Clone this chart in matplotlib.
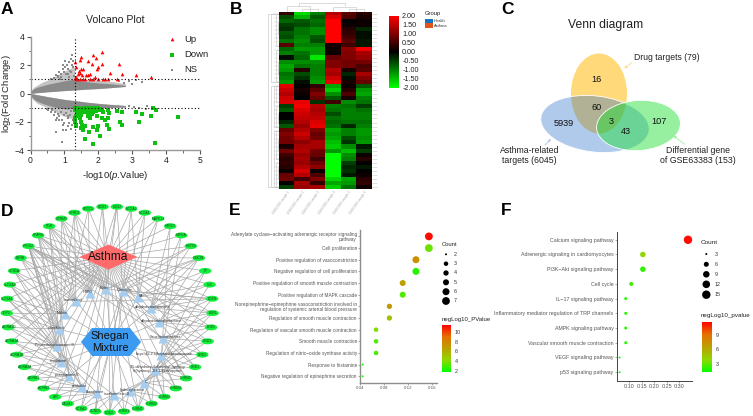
import numpy as np
import matplotlib
matplotlib.use('Agg')
import matplotlib.pyplot as plt
from matplotlib.patches import Ellipse, Polygon, Rectangle
from matplotlib.colors import LinearSegmentedColormap, Normalize
from matplotlib.cm import ScalarMappable

plt.rcParams['font.family'] = ['Liberation Sans', 'DejaVu Sans']
plt.rcParams['mathtext.fontset'] = 'custom'
plt.rcParams['mathtext.rm'] = 'Liberation Sans'
plt.rcParams['mathtext.it'] = 'Liberation Sans:italic'
plt.rcParams['mathtext.default'] = 'regular'

W, H = 753, 416

# Panel A: volcano plot
up_x = [1.3, 1.35, 1.42, 1.45, 1.5, 1.5, 1.55, 1.4, 1.45, 1.52, 1.35, 1.3, 1.38, 1.45, 1.55, 1.6, 1.65,
        1.7, 1.75, 1.7, 1.8, 1.85, 1.92, 2.1, 2.0, 2.1, 1.95, 1.9, 1.75, 1.85, 2.0, 2.15, 2.2, 2.3,
        2.35, 2.55, 2.6, 2.7, 3.1, 3.55]
up_y = [2.2, 1.9, 1.6, 2.4, 2.6, 1.75, 1.7, 1.4, 1.45, 1.3, 1.2, 1.1, 1.05, 1.0, 1.05, 1.0, 1.3,
        1.3, 1.4, 2.3, 2.1, 2.75, 2.5, 2.95, 1.9, 2.1, 1.7, 1.15, 1.0, 1.0, 1.05, 1.0, 1.0, 1.05,
        1.45, 1.05, 2.1, 1.4, 1.3, 1.2]
down_x = [1.3, 1.32, 1.35, 1.38, 1.4, 1.42, 1.45, 1.48, 1.5, 1.52, 1.55, 1.58, 1.6, 1.63, 1.66, 1.7,
          1.72, 1.75, 1.78, 1.8, 1.83, 1.86, 1.9, 1.93, 1.97, 2.0, 2.05, 2.1, 2.15, 2.3, 2.32, 2.55, 2.7,
          1.32, 1.35, 1.4, 1.45, 1.5, 1.3, 1.35, 1.48, 1.52, 1.7, 1.75, 1.8, 1.95, 2.1, 2.2, 2.3,
          1.33, 1.5, 1.55, 1.62, 1.72, 1.85, 1.95, 2.0, 2.25, 2.32, 2.65, 2.7, 3.1, 3.2, 3.3, 3.55, 3.6,
          3.7, 4.35, 1.62, 2.05, 1.83, 3.67]
down_y = [-1.05, -1.2, -1.1, -1.3, -1.05, -1.25, -1.15, -1.3, -1.1, -1.25, -1.05, -1.3, -1.15, -1.3, -1.05,
          -1.25, -1.1, -1.35, -1.05, -1.2, -1.3, -1.1, -1.05, -1.25, -1.05, -1.15, -1.1, -1.2, -1.3, -1.15,
          -1.4, -1.25, -1.3, -1.7, -1.6, -1.45, -1.75, -1.55, -2.05, -2.2, -2.05, -2.2, -1.6, -1.75, -1.45,
          -1.6, -1.7, -1.85, -1.75, -2.3, -2.45, -2.55, -2.3, -2.7, -2.4, -2.6, -2.3, -2.2, -2.5, -2.0, -2.25,
          -1.3, -2.05, -1.45, -1.6, -1.05, -1.15, -1.65, -3.2, -3.0, -3.6, -3.5]
ns_band_x = [0, .05, .1, .2, .35, .5, .7, .9, 1.1, 1.29, 1.31, 1.6, 2, 2.4, 2.8]
ns_up_inner = [0, .02, .03, .06, .09, .12, .15, .19, .22, .25, .25, .3, .35, .42, .5]
ns_up_dense = [.12, .25, .35, .45, .55, .65, .75, .85, .95, 1.0, .95, .85, .75, .68, .58]
ns_up_sparse = [.15, .3, .45, .6, .8, .95, 1.2, 1.45, 1.7, 1.9, 1.0, 1.0, .95, .85, .7]
ns_low_inner = [0, -.02, -.04, -.09, -.15, -.22, -.3, -.38, -.45, -.5, -.5, -.6, -.7, -.78, -.85]
ns_low_dense = [-.12, -.28, -.4, -.55, -.7, -.82, -.95, -1.05, -1.1, -1.0, -1.0, -1.0, -1.0, -.98, -.95]
ns_low_sparse = [-.15, -.35, -.5, -.7, -.85, -1.0, -1.25, -1.5, -1.7, -1.8, -1.0, -1.0, -1.0, -1.0, -1.0]
ns_x = [.6, .7, .75, .8, .85, .9, .95, 1.0, 1.02, 1.05, 1.08, 1.12, 1.15, 1.18, 1.2, 1.22, 1.25, 1.28,
        .9, .97, 1.03, 1.1, 1.17, 1.23, .82, .88, 1.14, 1.26, 2.9, 3.0, 3.1, 3.3, 2.6, 2.75,
        .5, .52, .6, .62, .7, .72, .78, .8, .85, .9, .92, .98, 1.0, 1.05, 1.1, 1.12, 1.16, 1.2, 1.25,
        .75, .85, .95, 1.05, 1.15, 1.22, .75, .95, .92, 1.1, 1.2, 3.05, 3.45, 2.9, 3.2, 3.4]
ns_y = [1.0, 1.1, 1.3, 1.2, 1.5, 1.35, 1.7, 1.55, 1.85, 1.4, 2.05, 1.75, 2.2, 2.45, 1.5, 2.7, 1.9, 1.25,
        1.15, 2.0, 2.3, 1.35, 1.6, 2.0, 1.25, 1.05, 1.15, 2.3, .85, .7, .95, .8, .85, .75,
        -1.1, -1.2, -1.3, -1.15, -1.5, -1.3, -1.75, -1.45, -1.6, -1.3, -1.9, -1.55, -2.1, -1.4, -1.7, -2.3,
        -1.5, -2.5, -1.9, -1.9, -1.85, -2.2, -2.6, -2.1, -2.2, -2.75, -2.6, -3.4, -1.6, -1.25, -.95, -.85, -.9, -1.0, -1.1]

# Panel B: heatmap, rows top to bottom, six samples
heat = np.array([
    [.4, -1.7, -1.0, 1.4, .7, .3], [-.6, -1.4, -.7, 1.7, .6, .2], [-.8, -.7, -.9, 2, .0, .1],
    [-.5, -.6, -.8, 2, .1, .1], [-.4, -.9, -1.1, 2, .3, -.3], [-.7, -.9, -1.1, 2, .4, -.1],
    [-.6, -1.0, -.7, 2, .5, -.1], [-.9, -1.1, -.6, 2, .7, -.2], [.7, -1.0, -1.0, .2, .5, -.2],
    [-.8, -1.2, -1.2, .1, 1.1, 1.9], [-1.0, -.9, -1.2, .1, 1.0, 1.3], [-.1, -.8, -1.8, .8, 1.0, 1.2],
    [-1.1, -1.1, -1.1, 1.0, .9, .9], [-1.3, -.9, -1.0, 1.0, .9, .6], [-1.2, .3, -1.0, 1.4, .2, .7],
    [-.9, -.6, -1.0, 1.3, -.3, 1.3], [-1.0, -.4, -1.1, 1.6, -.1, 1.0], [-1.2, -.1, -1.2, 1.8, .2, .8],
    [1.8, .0, .4, -1.3, .1, -.7], [1.6, .2, .7, -1.6, .3, -1.2], [1.4, .1, 1.0, -1.1, .6, -1.3],
    [1.6, .0, .8, -.7, .2, -1.0], [1.7, 1.8, -.4, .5, -1.1, -.9], [-.5, 1.9, 1.4, -1, -.9, -.5],
    [-.7, 1.7, 1.3, -.9, -1, -.9], [.0, 1.6, 1.4, -.6, -1, -1], [.0, 1.5, 1.5, -.9, -1, -1],
    [-.3, 1.4, 1.7, -.8, -.9, -.9], [-.7, 1.2, 1.8, -.9, -.3, -1], [.8, 1.4, 1.0, -1.3, -1, -1.2],
    [1.0, 1.6, .8, -1.2, -1, -1.2], [.9, 1.4, .9, -1.3, -.6, -1.1], [.9, 1.1, 1.3, -1.5, -.4, -1.2],
    [.2, 1.3, 1.3, -1.6, -1.1, -.2], [.9, 1.4, .9, -1.2, -1.5, -.5], [.5, 1.2, .8, -2, -1.1, .1],
    [.3, 1.3, .5, -2, -1, .3], [.4, 1.2, .9, -2, -.5, .0], [.3, 1.4, 1.1, -2, -.3, -.2],
    [.1, 1.7, .1, -2, -.4, .0], [.8, 1.4, .6, -2, -.2, .1], [.9, .5, 1.0, -1.7, -1.3, .3],
    [.0, 1.3, .4, -1.3, -1.2, .4], [-.5, 1.2, 1.3, -1.6, -.9, .1]])
heat_ticks = [2.0, 1.5, 1.0, 0.5, 0.0, -0.5, -1.0, -1.5, -2.0]
heat_samples = ['GSE63383 sample 1', 'GSE63383 sample 2', 'GSE63383 sample 3',
                'GSE63383 sample 4', 'GSE63383 sample 5', 'GSE63383 sample 6']
# row cluster brackets: first row, last row, depth
row_clusters = [(0, 8, 1), (9, 17, 1), (0, 17, 3), (18, 22, 1), (23, 28, 1), (18, 28, 2), (29, 36, 1),
                (37, 43, 1), (29, 43, 2), (18, 43, 3), (0, 43, 4), (2, 5, .5), (12, 15, .5), (25, 27, .5),
                (31, 34, .5), (38, 41, .5)]

# Panel D: network
targets = ['NOS2', 'NCOA2', 'NCOA1', 'MAPK14', 'HTR2C', 'HTR2A', 'HSP90', 'GSK3B', 'F7', 'F10', 'EGFR', 'ESR1',
           'DRD5', 'DRD3', 'DRD2', 'DRD1', 'CHRM5', 'CHRM4', 'CHRM3', 'CHRM2', 'CHRM1', 'CHEK1', 'CDK2',
           'CCND1', 'CCNA2', 'CALM1', 'AR', 'ADRB2', 'ADRB1', 'ADRA2A', 'ADRA1B', 'ADRA1A', 'ADRA1D', 'TOP2',
           'SLC6A4', 'SLC6A3', 'SCN5A', 'RXRB', 'PTGS2', 'PPARG', 'PGR', 'OPRM1', 'OPRD1', 'NR3C1', 'NOS3']
compounds = ['Rutin', 'Quercetin', 'FA', 'dihydroisotanshinone', 'dihydroisotanshinlactone', 'Sauchinoneisomer',
             'bicyclo[2.2.1]heptanebenzoxazine', '3,5-dihydroxy-4-dimethyl-hydroxy\n6-(hydroxy)-2H-1-benzopyran',
             'C', 'hydroxylactone', 'isorhamnetin B', 'liberatinine', 'senkirkin', 'praeruptorin E', 'Irisolidone',
             'Peucedanocoumarin III', 'rutaeKerol', 'Malvin', 'kaempferol', 'HSP0']
compound_targets = [
    [44, 0, 42, 41, 40, 39, 38, 7, 6, 10], [0, 1, 2, 3, 6, 7, 38, 39, 22, 23, 24, 10, 11], [1, 2, 3, 7, 9, 8, 38],
    [4, 5, 6, 7, 9, 10, 11, 12], [7, 8, 10, 11, 12, 13, 38, 40], [11, 12, 13, 14, 15, 16, 38, 39],
    [13, 14, 15, 16, 17, 18, 5, 4], [15, 16, 17, 18, 19, 20, 9, 8], [16, 17, 18, 19, 20, 11, 10],
    [18, 19, 20, 21, 22, 12, 13], [20, 21, 22, 23, 24, 14, 33], [22, 23, 24, 25, 26, 27, 34],
    [25, 26, 27, 28, 29, 35, 36, 38], [26, 27, 28, 29, 30, 31, 38, 39, 40], [28, 29, 30, 31, 32, 33, 38, 41],
    [30, 31, 32, 33, 34, 35, 38, 39, 42], [32, 33, 34, 35, 36, 37, 38, 40], [33, 34, 35, 36, 37, 38, 39, 43],
    [36, 37, 38, 39, 40, 41, 42, 10], [37, 38, 39, 40, 41, 42, 43, 44, 0]]

# Panel E: GO enrichment
go_terms = ['Adenylate cyclase\u2212activating adrenergic receptor signaling\npathway', 'Cell proliferation',
            'Positive regulation of vasoconstriction', 'Negative regulation of cell proliferation',
            'Positive regulation of smooth muscle contraction', 'Positive regulation of MAPK cascade',
            'Norepinephrine\u2212epinephrine vasoconstriction involved in\nregulation of systemic arterial blood pressure',
            'Regulation of smooth muscle contraction', 'Regulation of vascular smooth muscle contraction',
            'Smooth muscle contraction', 'Regulation of nitric\u2212oxide synthase activity',
            'Response to histamine', 'Negative regulation of epinephrine secretion']
go_ratio = [.1545, .1545, .133, .133, .111, .111, .0889, .0889, .0667, .0667, .0667, .0444, .0444]
go_count = [7, 7, 6, 6, 5, 5, 4, 4, 3, 3, 3, 2, 2]
go_logp = [11.2, 3.6, 7.4, 2.5, 6.6, 3.2, 7.0, 5.2, 4.0, 3.2, 3.0, 2.1, 2.1]
go_count_legend = [2, 3, 4, 5, 6, 7]
go_bar_ticks = [10, 8, 6, 4, 2]

# Panel F: KEGG enrichment
kegg_terms = ['Calcium signaling pathway', 'Adrenergic signaling in cardiomyocytes', 'PI3K\u2212Akt signaling pathway',
              'Cell cycle', 'IL\u221217 signaling pathway', 'Inflammatory mediator regulation of TRP channels',
              'AMPK signaling pathway', 'Vascular smooth muscle contraction', 'VEGF signaling pathway',
              'p53 signaling pathway']
kegg_ratio = [.334, .155, .155, .109, .087, .087, .087, .087, .0625, .0625]
kegg_count = [15, 7, 7, 5, 4, 4, 4, 4, 3, 3]
kegg_logp = [11.5, 4.0, 2.2, 2.4, 2.0, 2.0, 2.0, 2.0, 1.6, 1.6]
kegg_count_legend = [3, 6, 9, 12, 15]
kegg_bar_ticks = [9, 6, 3]

fig = plt.figure(figsize=(W / 100, H / 100), dpi=100)


def ax_at(left, top, right, bottom):
    a = fig.add_axes([left / W, 1 - bottom / H, (right - left) / W, (bottom - top) / H])
    a.patch.set_alpha(0)
    return a


# overlay in pixel coordinates for the free-form pieces
ov = fig.add_axes([0, 0, 1, 1], zorder=0)
ov.set_xlim(0, W)
ov.set_ylim(H, 0)
ov.axis('off')

for letter, lx, ly in [('A', 1, 14), ('B', 230, 14), ('C', 501, 14), ('D', 1, 216), ('E', 229, 215), ('F', 501, 215)]:
    ov.text(lx, ly, letter, fontsize=12.5, fontweight='bold', color='black', va='baseline')

# ---- A ----
axa = ax_at(30.5, 37, 200, 150)
axa.set_zorder(2)
gray = '#8a8a8a'
axa.fill_between(ns_band_x, ns_up_inner, ns_up_sparse, color='#c4c4c4', lw=0)
axa.fill_between(ns_band_x, ns_low_inner, ns_low_sparse, color='#c4c4c4', lw=0)
axa.fill_between(ns_band_x, ns_up_inner, ns_up_dense, color=gray, lw=0)
axa.fill_between(ns_band_x, ns_low_inner, ns_low_dense, color=gray, lw=0)
axa.scatter(ns_x, ns_y, s=0.7, c=gray, marker='s', lw=0, label='NS')
axa.scatter(up_x, up_y, s=7, c='#ff0000', marker='^', lw=0, label='Up')
axa.scatter(down_x, down_y, s=5.5, c='#10c010', marker='s', lw=0, label='Down')
axa.axvline(1.3, color='black', ls=(0, (1, 2)), lw=0.8)
axa.axhline(1, color='black', ls=(0, (1, 2)), lw=0.8)
axa.axhline(-1, color='black', ls=(0, (1, 2)), lw=0.8)
axa.set_xlim(0, 5)
axa.set_ylim(-4, 4)
axa.set_xticks([0, 1, 2, 3, 4, 5])
axa.set_yticks([-4, -2, 0, 2, 4])
axa.set_yticks([-3, -1, 1, 3], minor=True)
axa.set_xticks(np.arange(0.5, 5, 1), minor=True)
axa.tick_params(labelsize=6.2, length=3, width=0.8, color='#555555', pad=1.5, labelcolor='#222222')
axa.tick_params(which='minor', length=1.8, width=0.6, color='#555555')
for s in ['top', 'right']:
    axa.spines[s].set_visible(False)
for s in ['left', 'bottom']:
    axa.spines[s].set_color('#999999')
    axa.spines[s].set_linewidth(1.0)
axa.set_xlabel('-log10($\\mathit{p}$.Value)', fontsize=6.8, labelpad=2.5, color='#222222')
axa.set_ylabel('log$_2$(Fold Change)', fontsize=6.8, color='#222222')
axa.yaxis.set_label_coords(-0.105, 0.5)
ov.text(115.5, 20, 'Volcano Plot', fontsize=7.6, ha='center', va='center', color='#222222')
handles, labels = axa.get_legend_handles_labels()
axa.legend([handles[1], handles[2], handles[0]], [labels[1], labels[2], labels[0]], frameon=False, fontsize=6.8,
           loc='upper left', bbox_to_anchor=(0.75, 1.06), labelspacing=0.65, handletextpad=0.3,
           borderpad=0, markerscale=1.0, labelcolor='#222222')

# ---- B ----
heat_cmap = LinearSegmentedColormap.from_list('gbr', ['#00ff00', '#000000', '#ff0000'])
axb = ax_at(279.3, 11.7, 371.7, 189)
im = axb.imshow(heat, aspect='auto', cmap=heat_cmap, vmin=-2, vmax=2, interpolation='nearest')
axb.set_xticks(range(6))
axb.set_xticklabels(heat_samples, rotation=55, ha='right', rotation_mode='anchor', fontsize=2.2, color='#aaaaaa')
axb.set_yticks(range(len(heat)))
axb.yaxis.tick_right()
axb.set_yticklabels([])
axb.tick_params(axis='y', length=3.5, width=0.4, color='#c8c8c8', pad=1)
axb.tick_params(axis='x', length=0, pad=1)
for s in axb.spines.values():
    s.set_visible(False)
cax = ax_at(389.3, 15.7, 398.7, 87.7)
cb = fig.colorbar(im, cax=cax, ticks=heat_ticks, format='%.2f')
cb.outline.set_visible(False)
cb.ax.tick_params(length=0, labelsize=5.2, pad=2.5, labelcolor='#222222')

# dendrograms
top_x = 279.3 + 92.4 * (np.arange(6) + .5) / 6
dgc = '#cccccc'
for a, b, h in [(1, 2, 8.5), (4, 5, 8.5), (0, 1.5, 6), (3, 4.5, 6.5)]:
    xa = np.interp(a, range(6), top_x)
    xb = np.interp(b, range(6), top_x)
    ov.plot([xa, xa, xb, xb], [11.5, h, h, 11.5], color=dgc, lw=0.5)
xl, xr = np.interp(.75, range(6), top_x), np.interp(3.75, range(6), top_x)
ov.plot([xl, xl, xr, xr], [6, 2.5, 2.5, 6], color=dgc, lw=0.5)
row_h = (189 - 11.7) / len(heat)
for r0, r1, depth in row_clusters:
    y0, y1 = 11.7 + (r0 + .5) * row_h, 11.7 + (r1 + .5) * row_h
    xd = 279 - depth * 2.7
    ov.plot([279, xd, xd, 279], [y0, y0, y1, y1], color=dgc, lw=0.5)
for r in range(len(heat)):
    yr = 11.7 + (r + .5) * row_h
    ov.plot([274.5, 279], [yr, yr], color=dgc, lw=0.35)

ov.text(425, 14, 'Group', fontsize=4.2, va='center', color='#222222')
ov.add_patch(Rectangle((425, 18.5), 8, 4.6, color='#1474c4', lw=0))
ov.add_patch(Rectangle((425, 23.3), 8, 4.6, color='#e0561c', lw=0))
ov.text(434, 20.8, 'Health', fontsize=2.9, va='center', color='#333333')
ov.text(434, 25.6, 'Asthma', fontsize=2.9, va='center', color='#333333')

# ---- C ----
ov.text(605.5, 25, 'Venn diagram', fontsize=8.7, ha='center', va='center', color='#222222')
ov.add_patch(Ellipse((599, 93.5), 56, 80, color='#ffd97a', lw=0))
ov.add_patch(Ellipse((595, 124), 109, 56, angle=7, facecolor=(30/255, 105/255, 200/255, .35), edgecolor='white', lw=.6))
ov.add_patch(Ellipse((638.5, 125.5), 84, 50, angle=-4, facecolor=(22/255, 222/255, 44/255, .45), edgecolor='white', lw=.6))
for txt, vx, vy in [('16', 596.5, 80), ('60', 596.5, 108), ('5939', 564, 123), ('3', 611.5, 121.5), ('43', 626, 131.5), ('107', 659.5, 121)]:
    ov.text(vx, vy, txt, fontsize=6.6, ha='center', va='center', color='#111111')
ov.text(634, 58, 'Drug targets (79)', fontsize=6.2, va='center', color='#222222')
ov.text(529.5, 155.5, 'Asthma-related\ntargets (6045)', fontsize=6.3, ha='center', va='center', color='#222222', linespacing=1.25)
ov.text(698, 155.5, 'Differential gene\nof GSE63383 (153)', fontsize=6.3, ha='center', va='center', color='#222222', linespacing=1.25)
ov.annotate('', xy=(622, 70), xytext=(634, 61), arrowprops=dict(arrowstyle='->', color='#ffd97a', lw=.6, mutation_scale=4))
ov.annotate('', xy=(553, 137), xytext=(543, 147), arrowprops=dict(arrowstyle='->', color='#a9c8ea', lw=.6, mutation_scale=4))
ov.annotate('', xy=(671, 134), xytext=(687, 146), arrowprops=dict(arrowstyle='->', color='#98f0a0', lw=.6, mutation_scale=4))

# ---- D ----
ring_ang = np.radians(4 + 8 * np.arange(len(targets)))
tx = 109.7 + 103 * np.sin(ring_ang)
ty = 309.5 - 103 * np.cos(ring_ang)
comp_ang = np.radians(-4 + 18 * np.arange(len(compounds)))
cx = 110 + 53 * np.sin(comp_ang)
cy = 342 - 53 * np.cos(comp_ang)
asthma_xy = (108.5, 257)
shegan_xy = (111, 342)
edge = '#a8a8a8'
for i in range(len(targets)):
    ov.plot([tx[i], asthma_xy[0]], [ty[i], asthma_xy[1]], color=edge, lw=.5, zorder=1)
for j, tlist in enumerate(compound_targets):
    ov.plot([cx[j], shegan_xy[0]], [cy[j], shegan_xy[1]], color=edge, lw=.5, zorder=1)
    for i in tlist:
        ov.plot([cx[j], tx[i]], [cy[j], ty[i]], color=edge, lw=.5, zorder=1)
for i, name in enumerate(targets):
    ov.add_patch(Ellipse((tx[i], ty[i]), 12.5, 6, color='#12f03c', lw=0, zorder=2))
    ov.text(tx[i], ty[i], name, fontsize=2.4, ha='center', va='center', color='#14501e', zorder=3)
ov.scatter(cx, cy, s=52, marker='^', c='#a5cdf0', lw=0, zorder=2)
for j, name in enumerate(compounds):
    lab_x = cx[j] + 2.5 * np.sign(np.sin(comp_ang[j]))
    ov.text(lab_x, cy[j] - 1, name, fontsize=2.7, ha='center', va='center', color='#333333', zorder=3, linespacing=1.1)
ax0, ay0 = asthma_xy
ov.add_patch(Polygon([(ax0 - 29, ay0), (ax0, ay0 - 12.5), (ax0 + 29, ay0), (ax0, ay0 + 12.5)], color='#ff6b6b', lw=0, zorder=4))
ov.text(ax0, ay0, 'Asthma', fontsize=8.6, ha='center', va='center', color='#111111', zorder=5)
sx0, sy0 = shegan_xy
ov.add_patch(Polygon([(sx0 - 30, sy0), (sx0 - 19, sy0 - 14), (sx0 + 19, sy0 - 14), (sx0 + 30, sy0), (sx0 + 19, sy0 + 14),
                      (sx0 - 19, sy0 + 14)], color='#3c9bf0', lw=0, zorder=4))
ov.text(sx0 - 1, sy0, 'Shegan\nMixture', fontsize=8, ha='center', va='center', color='#111111', zorder=5, linespacing=1.35)

# ---- E and F ----
enrich_cmap = LinearSegmentedColormap.from_list('gr', ['#00ff00', '#8fd800', '#bca000', '#e57000', '#ff0000'])


def dot_area(counts, levels, diam_px):
    d = np.interp(counts, levels, diam_px) * 0.72
    return d ** 2


def enrich(axp, terms, ratio, count, logp, levels, diam_px, vmin, vmax, xlim, xticks, spine_col, spine_w, lab_size, tick_size):
    y = np.arange(len(terms))[::-1]
    axp.scatter(ratio, y, s=dot_area(count, levels, diam_px), c=logp, cmap=enrich_cmap, vmin=vmin, vmax=vmax,
                lw=0, clip_on=False, zorder=3)
    axp.set_xlim(*xlim)
    axp.set_ylim(-.6, len(terms) - .45)
    axp.set_xticks(xticks)
    axp.set_xticklabels(['%.2f' % t for t in xticks])
    axp.set_yticks(y)
    axp.set_yticklabels(terms, linespacing=1.0)
    axp.tick_params(axis='y', labelsize=lab_size, length=1.3, width=.4, color='#666666', labelcolor='#555555', pad=1)
    axp.tick_params(axis='x', labelsize=tick_size, length=1.3, width=.4, color='#666666', labelcolor='#555555', pad=1)
    for s in ['top', 'right']:
        axp.spines[s].set_visible(False)
    for s in ['left', 'bottom']:
        axp.spines[s].set_color(spine_col)
        axp.spines[s].set_linewidth(spine_w)


def size_legend(x_dot, x_txt, title_x, title_y, levels, ys, diam_levels, diam_px, title_size):
    ov.text(title_x, title_y, 'Count', fontsize=title_size, va='center', color='#222222')
    ov.scatter([x_dot] * len(levels), ys, s=dot_area(levels, diam_levels, diam_px), c='black', lw=0)
    for lv, yv in zip(levels, ys):
        ov.text(x_txt, yv, str(lv), fontsize=3.9, va='center', color='#333333')


def grad_bar(left, top, right, bottom, vmin, vmax, ticks, title, title_x, title_y, title_size):
    cb_ax = ax_at(left, top, right, bottom)
    sm = ScalarMappable(Normalize(vmin, vmax), enrich_cmap)
    c = fig.colorbar(sm, cax=cb_ax, ticks=ticks)
    c.outline.set_visible(False)
    c.ax.tick_params(length=0, labelsize=3.9, pad=3, labelcolor='#333333')
    ov.text(title_x, title_y, title, fontsize=title_size, va='center', color='#222222')


go_levels = [2, 3, 4, 5, 6, 7]
go_diam = [2, 4.5, 5.3, 6, 7, 7.8]
axe = ax_at(360, 230, 436.7, 383.3)
enrich(axe, go_terms, go_ratio, go_count, go_logp, go_levels, go_diam, 1.8, 11.5, (.04, .1675), [.04, .08, .12, .16], '#8c8c8c', 1.0, 3.4, 3.2)
size_legend(446, 453.7, 441.5, 244.5, go_count_legend, [254.3, 263.7, 273, 282.3, 291.7, 301], go_levels, go_diam, 4.2)
grad_bar(441.7, 325, 450.7, 371.7, 1.8, 11.5, go_bar_ticks, 'negLog10_PValue', 441.5, 320, 4.3)

kegg_levels = [3, 6, 9, 12, 15]
kegg_diam = [2, 5, 6.5, 7.6, 8.4]
axf = ax_at(616.7, 231.7, 691.7, 381)
enrich(axf, kegg_terms, kegg_ratio, kegg_count, kegg_logp, kegg_levels, kegg_diam, 1.28, 11.75, (.0512, .3488), [.10, .15, .20, .25, .30], '#444444', .7, 3.8, 3.9)
size_legend(706.3, 715, 701, 243, kegg_count_legend, [254, 264.3, 274.3, 284.3, 294.7], kegg_levels, kegg_diam, 4.6)
grad_bar(701.7, 321.7, 711.7, 372.3, 1.28, 11.75, kegg_bar_ticks, 'negLog10_pvalue', 701, 315.7, 4.5)

fig.savefig('out.png', dpi=100)
